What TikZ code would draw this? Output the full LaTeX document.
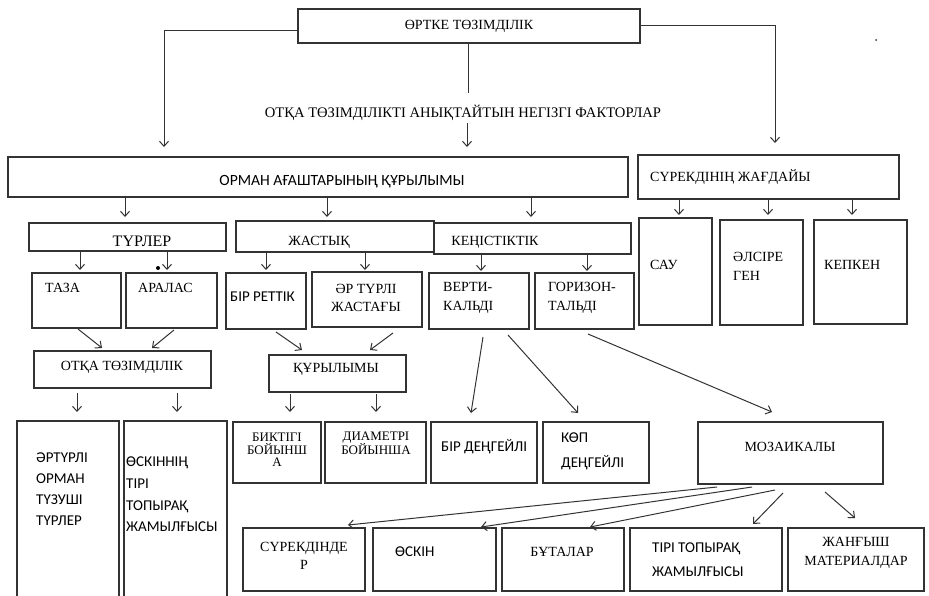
\documentclass[tikz,border=0pt]{standalone}
\usepackage{fontspec}
\setmainfont{Liberation Serif}
\newfontfamily\calib{Carlito}
\usetikzlibrary{arrows.meta}
\tikzset{
 box/.style={draw=black!80, line width=1.1pt, inner sep=0pt, outer sep=0pt, fill=white},
 arr/.style={draw=black!80, line width=1pt, -{Straight Barb[length=5pt,width=9pt,line width=1pt]}},
 ln/.style={draw=black!80, line width=1pt},
 ser/.style={font=\fontsize{14}{17}\selectfont, inner sep=0pt, text=black},
 sans/.style={font=\calib\fontsize{15}{21}\selectfont, inner sep=0pt, text=black},
}
\newcommand\bx[5]{\node[box,minimum width={#4-#2},minimum height={#5-#3}] (#1) at ({(#2+#4)/2},{(#3+#5)/2}) {};}
\begin{document}
\begin{tikzpicture}[x=1pt,y=-1pt]
\useasboundingbox[fill=white] (0,0) rectangle (929,595);
% boxes
\bx{top}{298}{9}{640}{43}
\bx{orman}{8}{157}{628}{197}
\bx{surek}{638}{155}{899}{199}
\bx{turler}{29}{223}{226}{251}
\bx{zhas}{236}{221}{434}{252}
\bx{kenis}{434}{223}{631}{254}
\bx{taza}{32}{273}{121}{328}
\bx{aralas}{126}{273}{217}{328}
\bx{bir}{226}{273}{306}{329}
\bx{ar}{312}{272}{422}{327}
\bx{verti}{429}{273}{529}{329}
\bx{goriz}{535}{273}{634}{329}
\bx{sau}{639}{218}{712}{325}
\bx{alsire}{720}{220}{803}{325}
\bx{kepken}{814}{220}{907}{324}
\bx{otqa}{34}{351}{211}{388}
\bx{qur}{269}{355}{406}{392}
\bx{arturli}{17}{421}{119}{610}
\bx{oskinnin}{124}{421}{227}{610}
\bx{biik}{233}{422}{321}{483}
\bx{diam}{325}{422}{426}{483}
\bx{birden}{431}{422}{537}{483}
\bx{kop}{543}{422}{649}{483}
\bx{moz}{698}{422}{883}{484}
\bx{surekd}{243}{528}{365}{591}
\bx{oskin}{373}{528}{496}{591}
\bx{butalar}{502}{528}{624}{591}
\bx{tiri}{630}{528}{782}{591}
\bx{zhang}{788}{528}{924}{591}
% texts
\node[ser] (ttop) at (top) {ӨРТКЕ ТӨЗІМДІЛІК};
\node[ser,font=\fontsize{14.6}{17}\selectfont] (tfac) at (463,113) {ОТҚА ТӨЗІМДІЛІКТІ АНЫҚТАЙТЫН НЕГІЗГІ ФАКТОРЛАР};
\node[sans,font=\calib\fontsize{15.6}{21}\selectfont] (torman) at (342,182) {ОРМАН АҒАШТАРЫНЫҢ ҚҰРЫЛЫМЫ};
\node[ser,anchor=west] (tsurek) at (650,177) {СҮРЕКДІНІҢ ЖАҒДАЙЫ};
\node[ser,font=\fontsize{16}{18}\selectfont] (tturler) at (142,241) {ТҮРЛЕР};
\node[ser] (tzhas) at (319,242) {ЖАСТЫҚ};
\node[ser] (tkenis) at (495,242) {КЕҢІСТІКТІК};
\node[ser,anchor=west] (ttaza) at (45,288) {ТАЗА};
\node[ser,anchor=west] (taralas) at (138,288) {АРАЛАС};
\node[sans,anchor=west] (tbir) at (230,297) {БІР РЕТТІК};
\node[ser,align=center,font=\fontsize{14}{18}\selectfont] (tar) at (366,298) {ӘР ТҮРЛІ\\ЖАСТАҒЫ};
\node[ser,align=left,anchor=west,font=\fontsize{14}{19}\selectfont] (tverti) at (443,298) {ВЕРТИ-\\КАЛЬДІ};
\node[ser,align=left,anchor=west,font=\fontsize{14}{19}\selectfont] (tgoriz) at (548,298) {ГОРИЗОН-\\ТАЛЬДІ};
\node[ser,anchor=west] (tsau) at (650,265) {САУ};
\node[ser,align=left,anchor=west,font=\fontsize{14}{19}\selectfont] (talsire) at (733,266) {ӘЛСІРЕ\\ГЕН};
\node[ser,anchor=west] (tkepken) at (824,265) {КЕПКЕН};
\node[ser] (totqa) at (122,367) {ОТҚА ТӨЗІМДІЛІК};
\node[ser] (tqur) at (336,369) {ҚҰРЫЛЫМЫ};
\node[sans,align=left,anchor=west] (tarturli) at (36,489.5) {ӘРТҮРЛІ\\ОРМАН\\ТҮЗУШІ\\ТҮРЛЕР};
\node[sans,align=left,anchor=west,font=\calib\fontsize{15}{21.7}\selectfont] (toskinnin) at (126,494.5) {ӨСКІННІҢ\\ТІРІ\\ТОПЫРАҚ\\ЖАМЫЛҒЫСЫ};
\node[ser,align=center,font=\fontsize{13}{12.5}\selectfont] (tbiik) at (277,450) {БИКТІГІ\\БОЙЫНШ\\А};
\node[ser,align=center,font=\fontsize{13}{14}\selectfont] (tdiam) at (376,443) {ДИАМЕТРІ\\БОЙЫНША};
\node[sans,anchor=west] (tbirden) at (441,447) {БІР ДЕҢГЕЙЛІ};
\node[sans,align=left,anchor=west,font=\calib\fontsize{15}{25}\selectfont] (tkop) at (561,451) {КӨП\\ДЕҢГЕЙЛІ};
\node[ser] (tmoz) at (790,447) {МОЗАИКАЛЫ};
\node[ser,align=center,font=\fontsize{14}{18}\selectfont] (tsurekd) at (304,556) {СҮРЕКДІНДЕ\\Р};
\node[sans,anchor=west] (toskin) at (395,552) {ӨСКІН};
\node[ser] (tbutalar) at (562,552) {БҰТАЛАР};
\node[sans,align=left,anchor=west,font=\calib\fontsize{15}{24}\selectfont] (ttiri) at (652,560) {ТІРІ ТОПЫРАҚ\\ЖАМЫЛҒЫСЫ};
\node[ser,align=center,font=\fontsize{14}{19}\selectfont] (tzhang) at (856,553) {ЖАНҒЫШ\\МАТЕРИАЛДАР};
% connectors from top
\draw[arr] (top.west |- 0,30) -| (164,147) coordinate (a1);
\draw[arr] (top.east |- 0,25) -| (775,143) coordinate (a2);
\draw[ln] (top.south -| 468,0) -- (468,93) coordinate (a3);
\draw[arr] (467,123) coordinate (a4) -- (467,147);
% children
\foreach \x in {125,327,531} \draw[arr] (\x,198) -- (\x,217);
\foreach \x in {679,768,852} \draw[arr] (\x,200) -- (\x,215);
\foreach \x in {80,167} \draw[arr] (\x,252) -- (\x,270);
\foreach \x in {266,365} \draw[arr] (\x,253) -- (\x,270);
\foreach \x in {481,587} \draw[arr] (\x,255) -- (\x,271);
\draw[arr] (78,329) -- (102,348);
\draw[arr] (174,330) -- (152,348);
\draw[arr] (276,332) -- (302,350);
\draw[arr] (393,333) -- (370,350);
\foreach \x in {77,177} \draw[arr] (\x,393) -- (\x,412);
\foreach \x in {290,376} \draw[arr] (\x,394) -- (\x,412);
\draw[arr] (483,337) -- (471,413);
\draw[arr] (508,335) -- (578,413);
\draw[arr] (588,334) -- (772,412);
\draw[arr] (717,487) -- (348,525);
\draw[arr] (752,487) -- (481,527);
\draw[arr] (775,490) -- (590,527);
\draw[arr] (783,493) -- (753,524);
\draw[arr] (825,492) -- (855,518);
% stray dots
\fill[black] (158,268) circle (2);
\fill[black!80] (876,40) circle (1);
\end{tikzpicture}
\end{document}
